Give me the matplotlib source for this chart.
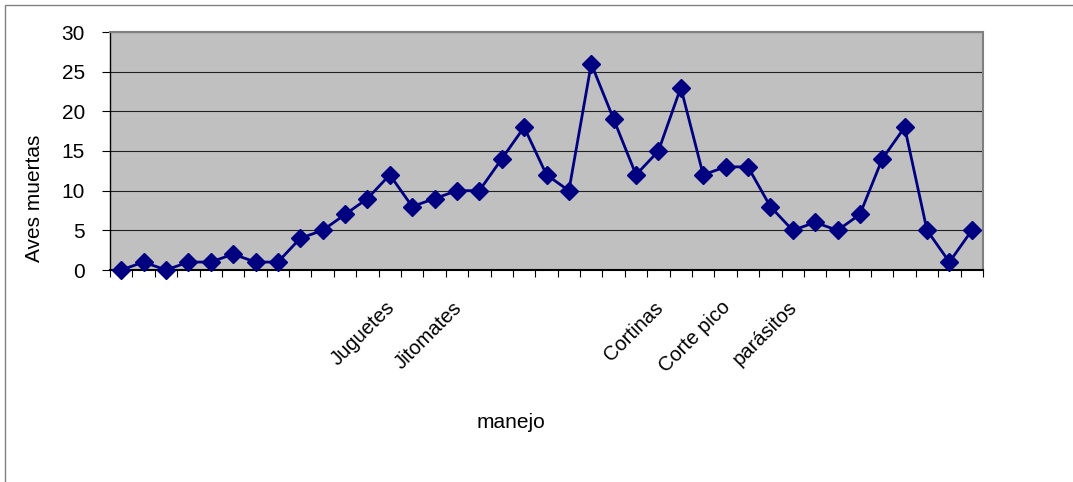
import matplotlib.pyplot as plt
import matplotlib.transforms as mtransforms
from matplotlib.patches import Rectangle
import numpy as np

plt.rcParams['font.family'] = ['Liberation Sans', 'DejaVu Sans']

# aves muertas por día y manejo aplicado
muertas = [0, 1, 0, 1, 1, 2, 1, 1, 4, 5, 7, 9, 12, 8, 9, 10, 10, 14, 18, 12,
           10, 26, 19, 12, 15, 23, 12, 13, 13, 8, 5, 6, 5, 7, 14, 18, 5, 1, 5]
manejo = [''] * len(muertas)
manejo[12] = 'Juguetes'
manejo[15] = 'Jitomates'
manejo[24] = 'Cortinas'
manejo[27] = 'Corte pico'
manejo[30] = 'parásitos'

fig = plt.figure(figsize=(10.73, 4.82), dpi=100)
ax = fig.add_axes([110 / 1073, 1 - 270 / 482, 873 / 1073, 238 / 482])

# marco exterior del gráfico
fig.patches.append(Rectangle((5 / 1073, -0.1), 1.1, 1 - 5 / 482 + 0.1,
                             transform=fig.transFigure, fill=False,
                             edgecolor='#808080', linewidth=1))

x = np.arange(len(muertas))
ax.set_facecolor('#C0C0C0')
ax.plot(x, muertas, color='#000080', linewidth=2, marker='D', markersize=9.5,
        zorder=3, clip_on=False)

ax.set_xlim(-0.5, len(muertas) - 0.5)
ax.set_ylim(0, 30)
ax.set_yticks(range(0, 31, 5))
ax.yaxis.grid(True, color='#202020', linewidth=0.8)
ax.set_axisbelow(True)

ax.set_xticks(x)
ax.set_xticklabels(manejo, rotation=45, ha='right', rotation_mode='anchor')
ax.tick_params(axis='x', which='major', length=0, pad=20, labelsize=14.5)
shift = mtransforms.ScaledTranslation(-5 / 100, 0, fig.dpi_scale_trans)
for lbl in ax.get_xticklabels():
    lbl.set_transform(lbl.get_transform() + shift)
ax.set_xticks(np.arange(-0.5, len(muertas), 1), minor=True)
ax.tick_params(axis='x', which='minor', length=5, width=0.8, color='black')
ax.tick_params(axis='y', length=6, width=0.8, labelsize=15, pad=12)

for side in ['top', 'right']:
    ax.spines[side].set_color('#808080')
    ax.spines[side].set_linewidth(1.5)
ax.spines['left'].set_linewidth(1)
ax.spines['bottom'].set_linewidth(1.5)

fig.text(35 / 1073, 1 - 198 / 482, 'Aves muertas', fontsize=15,
         rotation=90, ha='center', va='center')
fig.text(511 / 1073, 1 - 423 / 482, 'manejo', fontsize=15,
         ha='center', va='center')

fig.savefig('out.png', dpi=100)
